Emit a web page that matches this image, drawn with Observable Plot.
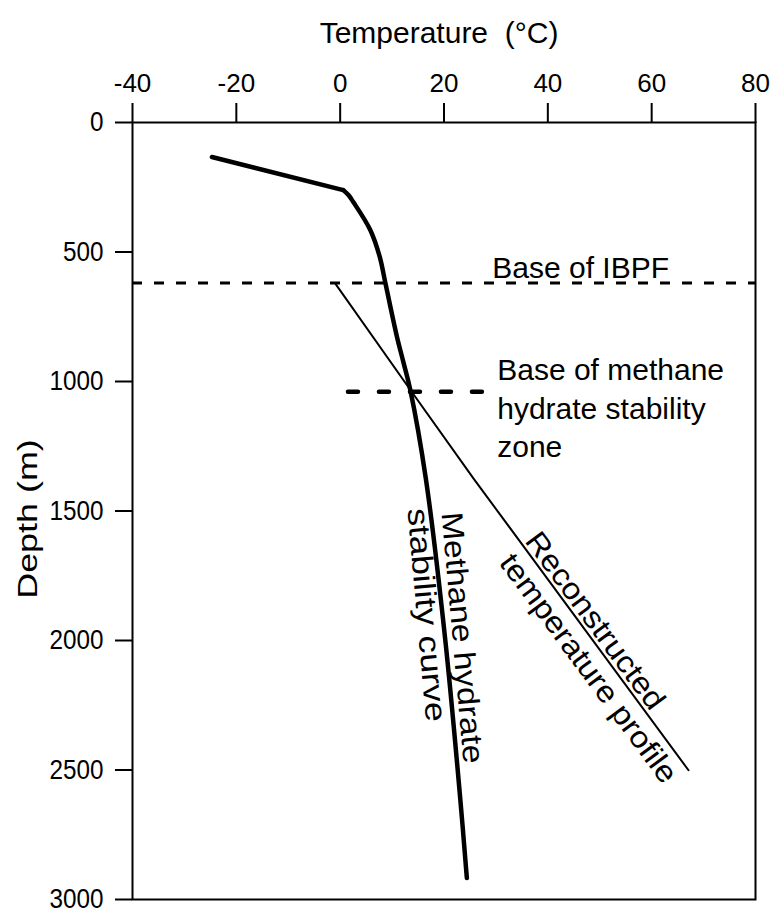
<!DOCTYPE html>
<html>
<head>
<meta charset="utf-8">
<script src="https://cdn.jsdelivr.net/npm/d3@7"></script>
<script src="https://cdn.jsdelivr.net/npm/@observablehq/plot@0.6"></script>
<style>
  html, body { margin: 0; padding: 0; background: #fff; }
  #chart svg { display: block; }
</style>
</head>
<body>
<div id="chart"></div>
<script>
// Axis ticks: temperature (°C) along the top, depth (m) down the left side
const tempTicks = [-40, -20, 0, 20, 40, 60, 80];
const depthTicks = [0, 500, 1000, 1500, 2000, 2500, 3000];

// Methane hydrate stability curve (straight above the kink, smooth below it)
const hydrateTemp  = [-24.7, 0.6, 1.6, 2.5, 5.8, 7.6, 8.7, 10.9, 12.2, 13.5, 16.5, 20.2, 23.1, 24.4];
const hydrateDepth = [133, 261, 280, 306, 415, 517, 619, 824, 927, 1032, 1375, 1989, 2604, 2917];

// Reconstructed temperature profile
const profileTemp  = [-1.0, 13.5, 25.7, 67.1];
const profileDepth = [620, 1032, 1375, 2501];

// Base of the ice-bearing permafrost, and base of the hydrate stability zone
const ibpfDepth = [620];
const hszBaseDepth = 1040;
const hszBaseTemp = [1.5, 27.3];

const hydrate = hydrateTemp.map((t, i) => ({t, d: hydrateDepth[i]}));
const profile = profileTemp.map((t, i) => ({t, d: profileDepth[i]}));
const hszBase = hszBaseTemp.map(t => ({t, d: hszBaseDepth}));

const font = '"Liberation Sans", Arial, Helvetica, sans-serif';
const bold = {stroke: "#000", strokeWidth: 4.5, strokeLinecap: "round", strokeLinejoin: "round"};

const plot = Plot.plot({
  width: 772,
  height: 915,
  marginTop: 122,
  marginRight: 17,
  marginBottom: 16,
  marginLeft: 132,
  style: {fontFamily: font, color: "#000", background: "#fff"},
  x: {domain: [-40, 80]},
  y: {domain: [0, 3000], reverse: true},
  marks: [
    Plot.frame({stroke: "#000", strokeWidth: 2}),
    Plot.axisX(tempTicks, {
      anchor: "top", tickSize: 20, tickPadding: 11, fontSize: 26,
      strokeWidth: 2, tickFormat: d => String(d), label: null
    }),
    Plot.axisY(depthTicks, {
      anchor: "left", tickSize: 17, tickPadding: 12, fontSize: 27,
      strokeWidth: 2, tickFormat: d => String(d), label: null
    }),
    // axis titles
    Plot.text(["Temperature\u00a0 (°C)"], {
      text: d => d, frameAnchor: "top", textAnchor: "middle", lineAnchor: "bottom",
      dx: -5, dy: -80, fontSize: 30
    }),
    Plot.text(["Depth (m)"], {
      text: d => d, frameAnchor: "left", textAnchor: "middle", lineAnchor: "middle",
      rotate: -90, dx: -104.6, dy: 8, fontSize: 27
    }),
    // horizontal reference levels
    Plot.ruleY(ibpfDepth, {y: d => d, stroke: "#000", strokeWidth: 3, strokeDasharray: "10,12"}),
    Plot.line(hszBase, {x: "t", y: "d", stroke: "#000", strokeWidth: 4.5, strokeDasharray: "10,21"}),
    // curves
    Plot.line(profile, {x: "t", y: "d", stroke: "#000", strokeWidth: 2}),
    Plot.line(hydrate.slice(0, 2), {x: "t", y: "d", ...bold}),
    Plot.line(hydrate.slice(1), {x: "t", y: "d", curve: "catmull-rom", ...bold}),
    // annotations
    Plot.text(["Base of IBPF"], {
      text: d => d, x: 29.3, y: 599, textAnchor: "start", lineAnchor: "bottom", fontSize: 30
    }),
    Plot.text(["Base of methane\nhydrate stability\nzone"], {
      text: d => d, x: 30.25, y: 1290, textAnchor: "start", lineAnchor: "bottom",
      lineHeight: 1.27, fontSize: 30
    }),
    Plot.text(["Methane hydrate"], {
      text: d => d, x: 23.5, y: 1989, rotate: 85, textAnchor: "middle", lineAnchor: "middle", fontSize: 30
    }),
    Plot.text(["stability curve"], {
      text: d => d, x: 16.6, y: 1901, rotate: 85, textAnchor: "middle", lineAnchor: "middle", fontSize: 30
    }),
    Plot.text(["Reconstructed"], {
      text: d => d, x: 49.1, y: 1924, rotate: 53.5, textAnchor: "middle", lineAnchor: "middle", fontSize: 30
    }),
    Plot.text(["temperature profile"], {
      text: d => d, x: 47.8, y: 2108, rotate: 53.5, textAnchor: "middle", lineAnchor: "middle", fontSize: 30
    })
  ]
});

// Lettering widths: narrow depth numerals, elongated rotated labels
const stretch = new Map([
  ["Depth (m)", 1.33],
  ["Methane hydrate", 1.12],
  ["stability curve", 1.18],
  ["Reconstructed", 1.1],
  ["temperature profile", 1.1]
]);
plot.querySelectorAll("text").forEach(el => {
  const k = stretch.get(el.textContent);
  if (k) el.setAttribute("transform", (el.getAttribute("transform") || "") + ` scale(${k},1)`);
});
plot.querySelectorAll('g[aria-label="y-axis tick label"] text').forEach(el => {
  el.setAttribute("transform", (el.getAttribute("transform") || "") + " scale(0.9,1)");
});

document.getElementById("chart").appendChild(plot);
</script>
</body>
</html>
